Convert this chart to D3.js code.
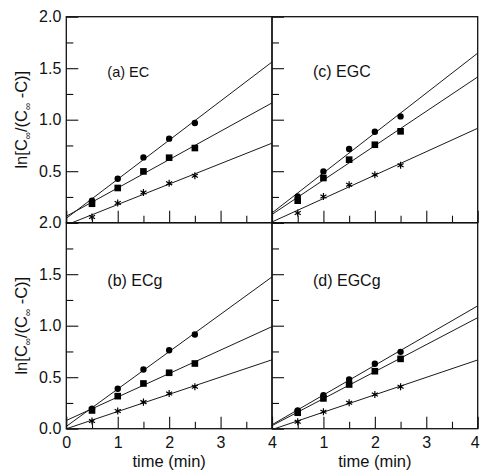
<!DOCTYPE html>
<html>
<head>
<meta charset="utf-8">
<script src="https://cdn.jsdelivr.net/npm/d3@7"></script>
<style>
  body { margin: 0; background: #fff; }
  svg { display: block; }
  text { font-family: "Liberation Sans", Arial, Helvetica, sans-serif; fill: #111; }
</style>
</head>
<body>
<svg id="chart" width="481" height="471"></svg>
<script>
// Sampling times (min)
const times = [0.5, 1.0, 1.5, 2.0, 2.5];

// ln[C∞/(C∞-C)] for each catechin: circles, squares, asterisks
const ecCircle   = [0.214, 0.427, 0.634, 0.816, 0.968];
const ecSquare   = [0.184, 0.337, 0.498, 0.631, 0.725];
const ecStar     = [0.055, 0.191, 0.294, 0.382, 0.456];

const ecgCircle  = [0.194, 0.388, 0.575, 0.762, 0.914];
const ecgSquare  = [0.177, 0.316, 0.439, 0.543, 0.633];
const ecgStar    = [0.074, 0.171, 0.258, 0.342, 0.407];

const egcCircle  = [0.255, 0.498, 0.715, 0.883, 1.032];
const egcSquare  = [0.214, 0.434, 0.612, 0.757, 0.887];
const egcStar    = [0.094, 0.255, 0.369, 0.466, 0.557];

const egcgCircle = [0.177, 0.326, 0.478, 0.630, 0.746];
const egcgSquare = [0.155, 0.294, 0.429, 0.558, 0.678];
const egcgStar   = [0.068, 0.165, 0.252, 0.332, 0.407];

const panelLabels = ["(a) EC", "(b) ECg", "(c) EGC", "(d) EGCg"];
const yMajor = [0, 0.5, 1.0, 1.5, 2.0];
const yMinor = [0.25, 0.75, 1.25, 1.75];
const xMajor = [0, 1, 2, 3, 4];
const xMinor = [0.5, 1.5, 2.5, 3.5];

const panels = [
  { label: panelLabels[0], col: 0, row: 0, series: [ecCircle, ecSquare, ecStar] },
  { label: panelLabels[1], col: 0, row: 1, series: [ecgCircle, ecgSquare, ecgStar] },
  { label: panelLabels[2], col: 1, row: 0, series: [egcCircle, egcSquare, egcStar] },
  { label: panelLabels[3], col: 1, row: 1, series: [egcgCircle, egcgSquare, egcgStar] }
];
const markerTypes = ["circle", "square", "star"];

// grid geometry
const gridLeft = 66.3, gridTop = 16.7, pw = 205.7, ph = 206;

const svg = d3.select("#chart");

// least-squares line through a series
function fit(xs, ys) {
  const mx = d3.mean(xs), my = d3.mean(ys);
  const sxy = d3.sum(xs, (xv, i) => (xv - mx) * (ys[i] - my));
  const sxx = d3.sum(xs, xv => (xv - mx) * (xv - mx));
  const b = sxy / sxx;
  return { b, a: my - b * mx };
}

const symCircle = d3.symbol().type(d3.symbolCircle).size(32);
const symSquare = d3.symbol().type(d3.symbolSquare).size(44);
const symStar   = d3.symbol().type(d3.symbolAsterisk).size(34);

panels.forEach((p, pi) => {
  const x0 = gridLeft + p.col * pw, y0 = gridTop + p.row * ph;
  const x = d3.scaleLinear().domain([0, 4]).range([x0, x0 + pw]);
  const y = d3.scaleLinear().domain([0, 2]).range([y0 + ph, y0]);

  const g = svg.append("g");

  const clipId = "clip" + pi;
  svg.append("clipPath").attr("id", clipId)
    .append("rect").attr("x", x0).attr("y", y0).attr("width", pw).attr("height", ph);

  // fitted lines
  const lines = g.append("g").attr("clip-path", `url(#${clipId})`);
  p.series.forEach(vals => {
    const f = fit(times, vals);
    lines.append("line")
      .attr("x1", x(0)).attr("y1", y(f.a))
      .attr("x2", x(4)).attr("y2", y(f.a + 4 * f.b))
      .attr("stroke", "#1a1a1a").attr("stroke-width", 1);
  });

  // markers
  p.series.forEach((vals, si) => {
    const kind = markerTypes[si];
    const sym = kind === "circle" ? symCircle : kind === "square" ? symSquare : symStar;
    g.append("g").selectAll("path").data(vals).join("path")
      .attr("transform", (v, i) => `translate(${x(times[i])},${y(v)})`)
      .attr("d", sym)
      .attr("fill", kind === "star" ? "none" : "#000")
      .attr("stroke", kind === "star" ? "#000" : "none")
      .attr("stroke-width", 1.2);
  });

  // left axis: ticks pointing inward
  const yAxis = d3.axisLeft(y).tickValues(yMajor).tickSizeInner(-12).tickSizeOuter(0).tickPadding(5)
    .tickFormat(p.col === 0 ? d3.format(".1f") : () => "");
  const yAxisMinor = d3.axisLeft(y).tickValues(yMinor).tickSizeInner(-7).tickSizeOuter(0).tickFormat("");
  const ya = g.append("g").attr("transform", `translate(${x0},0)`).call(yAxis);
  g.append("g").attr("transform", `translate(${x0},0)`).call(yAxisMinor);
  if (p.row === 0) ya.selectAll(".tick").filter(d => d === 0).select("text").remove();

  // bottom axis: ticks pointing inward
  let xFmt = () => "";
  if (p.row === 1) xFmt = d => (p.col === 1 && d === 0) ? "" : d3.format("d")(d);
  const xAxis = d3.axisBottom(x).tickValues(xMajor).tickSizeInner(-12).tickSizeOuter(0).tickPadding(8).tickFormat(xFmt);
  const xAxisMinor = d3.axisBottom(x).tickValues(xMinor).tickSizeInner(-7).tickSizeOuter(0).tickFormat("");
  const xa = g.append("g").attr("transform", `translate(0,${y0 + ph})`).call(xAxis);
  g.append("g").attr("transform", `translate(0,${y0 + ph})`).call(xAxisMinor);
  // keep the last label of the right-hand column inside the canvas
  if (p.col === 1) xa.selectAll(".tick").filter(d => d === 4).select("text").attr("dx", -3);

  g.selectAll(".domain").remove();
  g.selectAll(".tick line").attr("stroke", "#111").attr("stroke-width", 1.1);
  g.selectAll(".tick text").attr("font-size", 16)
    .attr("font-family", "'Liberation Sans', Arial, sans-serif").attr("fill", "#111");

  // panel frame
  g.append("rect").attr("x", x0).attr("y", y0).attr("width", pw).attr("height", ph)
    .attr("fill", "none").attr("stroke", "#111").attr("stroke-width", 1.3);

  // panel title
  g.append("text")
    .attr("x", x0 + 41).attr("y", y0 + (p.row === 0 ? 60 : 63))
    .attr("font-size", pi === 0 ? 14.5 : 16)
    .text(p.label);

  // axis titles
  if (p.col === 0) {
    const t = g.append("text")
      .attr("transform", `translate(27,${y(1.0)}) rotate(-90)`)
      .attr("text-anchor", "middle").attr("font-size", 16.5);
    t.append("tspan").text("ln[C");
    t.append("tspan").attr("font-size", 10).attr("dy", 3.5).text("\u221E");
    t.append("tspan").attr("dy", -3.5).text("/(C");
    t.append("tspan").attr("font-size", 10).attr("dy", 3.5).text("\u221E");
    t.append("tspan").attr("dy", -3.5).text(" -C)]");
  }
  if (p.row === 1) {
    g.append("text").attr("x", x(2)).attr("y", 467)
      .attr("text-anchor", "middle").attr("font-size", 16.5).text("time (min)");
  }
});
</script>
</body>
</html>
